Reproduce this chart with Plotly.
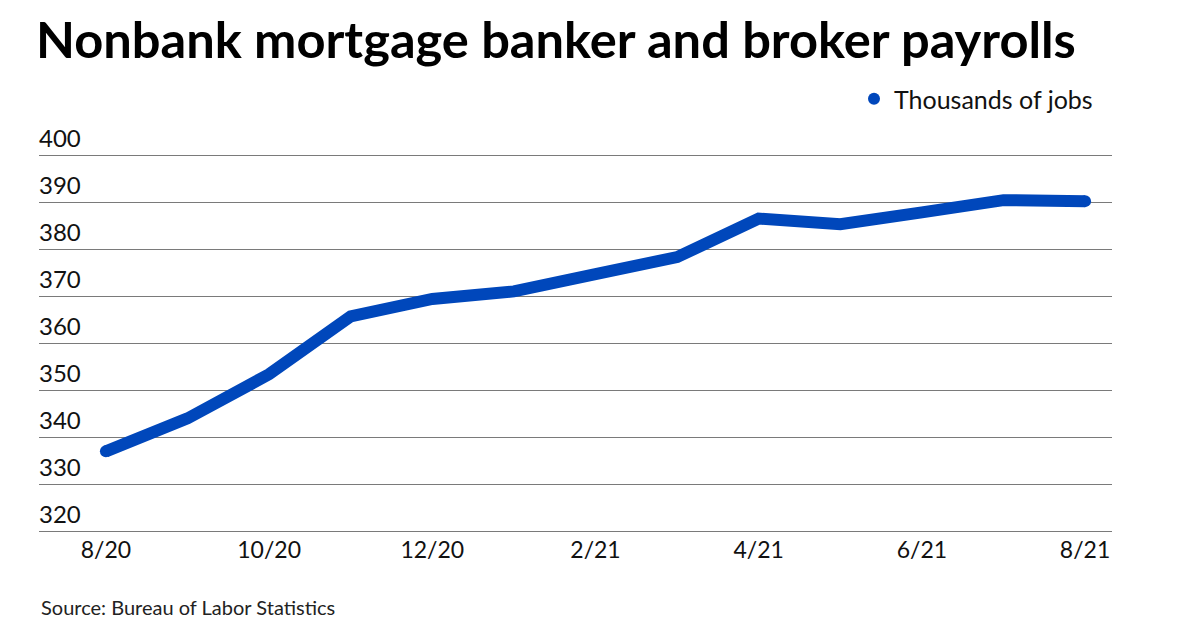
import plotly.graph_objects as go

months = ["8/20", "9/20", "10/20", "11/20", "12/20", "1/21", "2/21",
          "3/21", "4/21", "5/21", "6/21", "7/21", "8/21"]
jobs = [337.0, 344.0, 353.4, 365.7, 369.4, 371.0, 374.7,
        378.3, 386.5, 385.3, 387.8, 390.4, 390.2]
tick_labels = ["8/20", "10/20", "12/20", "2/21", "4/21", "6/21", "8/21"]
y_ticks = [320, 330, 340, 350, 360, 370, 380, 390, 400]

BLUE = "#0047BB"
FONT = "Lato"

# axis geometry: 400 -> y=155px, 320 -> y=531px  (4.7 px per unit)
Y_LO, Y_HI = 319.0, 410.0
PX = 4.7
m_top = 155 - (Y_HI - 400) * PX
m_bot = 630 - (531 + (320 - Y_LO) * PX)
plot_h = 630 - m_top - m_bot
plot_bottom_px = 630 - m_bot

fig = go.Figure()
fig.add_trace(go.Scatter(
    x=months, y=jobs, mode="lines",
    line=dict(color=BLUE, width=12, shape="linear"),
    showlegend=False, hoverinfo="x+y",
))
# round end caps
fig.add_trace(go.Scatter(
    x=[months[0], months[-1]], y=[jobs[0], jobs[-1]], mode="markers",
    marker=dict(color=BLUE, size=12, line=dict(width=0)),
    showlegend=False, hoverinfo="skip",
))
# legend entry (dot)
fig.add_trace(go.Scatter(
    x=[None], y=[None], mode="markers", name="Thousands of jobs",
    marker=dict(color=BLUE, size=18),
))

fig.update_layout(
    width=1200, height=630,
    margin=dict(l=39, r=88, t=m_top, b=m_bot, autoexpand=False),
    paper_bgcolor="white", plot_bgcolor="white",
    font=dict(family=FONT, color="#111111"),
    title=dict(
        text="<b>Nonbank mortgage banker and broker payrolls</b>",
        font=dict(family=FONT, size=50.6, color="black"),
        xref="container", yref="container",
        x=36 / 1200, xanchor="left",
        y=1 - 40 / 630, yanchor="middle",
        pad=dict(l=0, t=0, b=0, r=0),
    ),
    showlegend=True,
    legend=dict(
        x=1 - 14 / 1073, xanchor="right", xref="paper",
        y=1 - 99 / 630, yref="container", yanchor="middle",
        orientation="h",
        font=dict(family=FONT, size=25, color="#111111"),
        itemsizing="constant",
        bgcolor="rgba(0,0,0,0)",
    ),
    xaxis=dict(
        type="category",
        categoryorder="array", categoryarray=months,
        tickmode="array", tickvals=tick_labels, ticktext=tick_labels,
        range=[-0.82, 12.33],
        showgrid=False, zeroline=False, showline=False,
        ticks="", tickfont=dict(family=FONT, size=23, color="#111111"),
        ticklabelstandoff=-2,
    ),
    yaxis=dict(
        range=[Y_LO, Y_HI],
        tickmode="array", tickvals=y_ticks,
        ticklabelposition="inside top",
        ticklabelstandoff=-3,
        showgrid=True, gridcolor="#7a7a7a", gridwidth=1.3,
        zeroline=False, showline=False, ticks="",
        tickfont=dict(family=FONT, size=24, color="#111111"),
    ),
    annotations=[dict(
        text="Source: Bureau of Labor Statistics",
        xref="paper", yref="paper", x=0,
        y=-(607 - plot_bottom_px) / plot_h,
        xanchor="left", yanchor="middle", showarrow=False,
        font=dict(family=FONT, size=20, color="#222222"),
    )],
)

fig.write_html(
    "out.html",
    config={"displayModeBar": False},
    post_script="document.body.style.margin='0';document.body.style.padding='0';",
)
